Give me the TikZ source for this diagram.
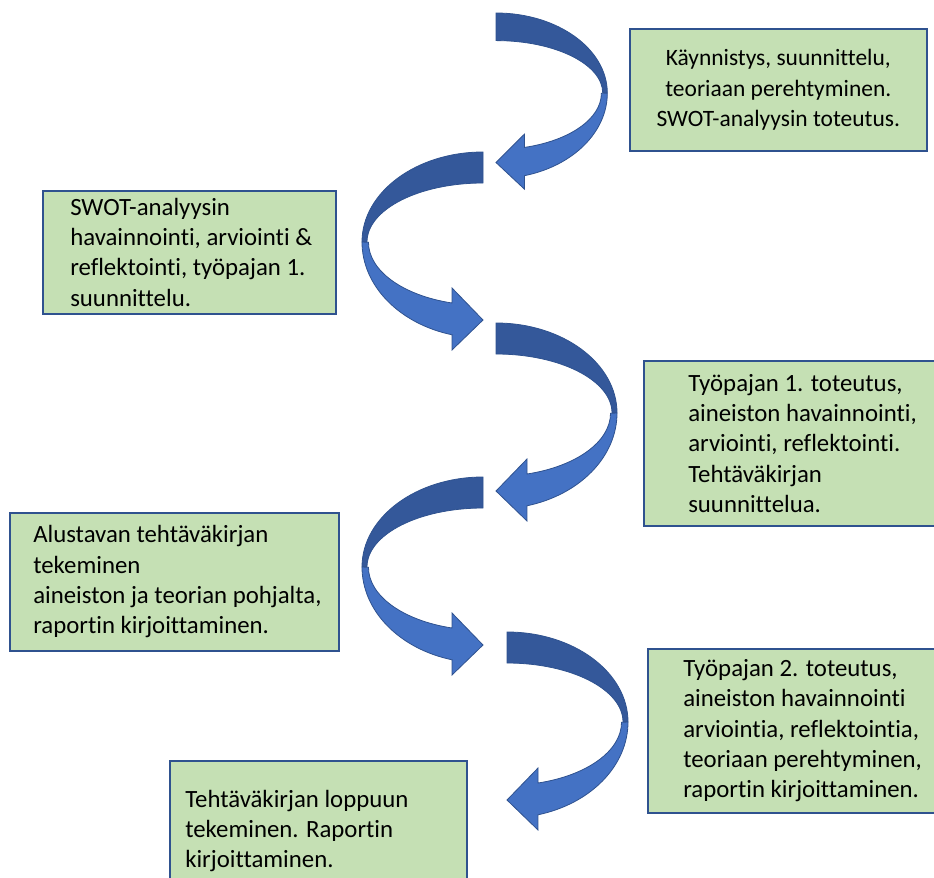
\documentclass[tikz,border=0pt]{standalone}
\usepackage{fontspec}
\setmainfont{Carlito}[Ligatures=NoCommon]
\usepackage{tikz}
\usetikzlibrary{positioning}
\usepackage{xcolor}
\definecolor{boxgreen}{HTML}{C5E0B4}
\definecolor{boxline}{HTML}{2F528F}
\definecolor{curlfront}{HTML}{4472C4}
\definecolor{curlback}{HTML}{34589A}

\begin{document}
\begin{tikzpicture}[x=0.75pt, y=-0.75pt,
  box/.style={draw=boxline, line width=1.2pt, fill=boxgreen, anchor=north west, inner sep=0pt},
  boxtext/.style={align=left, font=\fontsize{18.6}{22.7}\selectfont, inner sep=0pt},
  curl/.pic={
    \filldraw[fill=curlback, draw=boxline, line width=0.6pt] (0,0)
      arc[start angle=-90, end angle=0, x radius=121, y radius=90] -- (116,90)
      arc[start angle=0, end angle=-90, x radius=116, y radius=59] -- cycle;
    \filldraw[fill=curlfront, draw=boxline, line width=0.6pt] (121,90)
      arc[start angle=0, end angle=75.2, x radius=121, y radius=96]
      -- (31,198) -- (0,168) -- (31,136) -- (31,151)
      arc[start angle=74.5, end angle=0, x radius=114, y radius=63] -- cycle;
  }]
  \useasboundingbox (0,0) rectangle (934,877);
  \clip (0,0) rectangle (934,877);

  \node[box, minimum width=222.75pt, minimum height=91.5pt] (b1) at (629,28) {};
  \node[box, minimum width=219.75pt, minimum height=92.25pt] (b2) at (42,190) {};
  \node[box, minimum width=219.75pt, minimum height=123.75pt] (b3) at (643,360) {};
  \node[box, minimum width=246.75pt, minimum height=103.5pt] (b4) at (9,512) {};
  \node[box, minimum width=216.75pt, minimum height=123pt] (b5) at (647,648) {};
  \node[box, minimum width=222.75pt, minimum height=105pt] (b6) at (169,760) {};

  \node[boxtext, align=center, font=\fontsize{17.6}{23.2}\selectfont] (t1) at (b1.center) {Käynnistys, suunnittelu,\\ teoriaan perehtyminen.\\ SWOT-analyysin toteutus.};
  \node[boxtext, right=21pt of b2.west] (t2) {SWOT-analyysin\\ havainnointi, arviointi \&\\ reflektointi, työpajan 1.\\ suunnittelu.};
  \node[boxtext, right=33.75pt of b3.west] (t3) {Työpajan 1. toteutus,\\ aineiston havainnointi,\\ arviointi, reflektointi.\\ Tehtäväkirjan\\ suunnittelua.};
  \node[boxtext, right=18pt of b4.west] (t4) {Alustavan tehtäväkirjan\\ tekeminen\\ aineiston ja teorian pohjalta,\\ raportin kirjoittaminen.};
  \node[boxtext, right=27pt of b5.west] (t5) {Työpajan 2. toteutus,\\ aineiston havainnointi\\ arviointia, reflektointia,\\ teoriaan perehtyminen,\\ raportin kirjoittaminen.};
  \node[boxtext, right=12pt of b6.west] (t6) {Tehtäväkirjan loppuun\\ tekeminen. Raportin\\ kirjoittaminen.};

  \pic[xscale=0.92, yscale=0.89] at (496,13) {curl};
  \pic[xscale=-1] at (483,152) {curl};
  \pic at (496,323) {curl};
  \pic[xscale=-1] at (483,477) {curl};
  \pic at (507,632) {curl};
\end{tikzpicture}
\end{document}
